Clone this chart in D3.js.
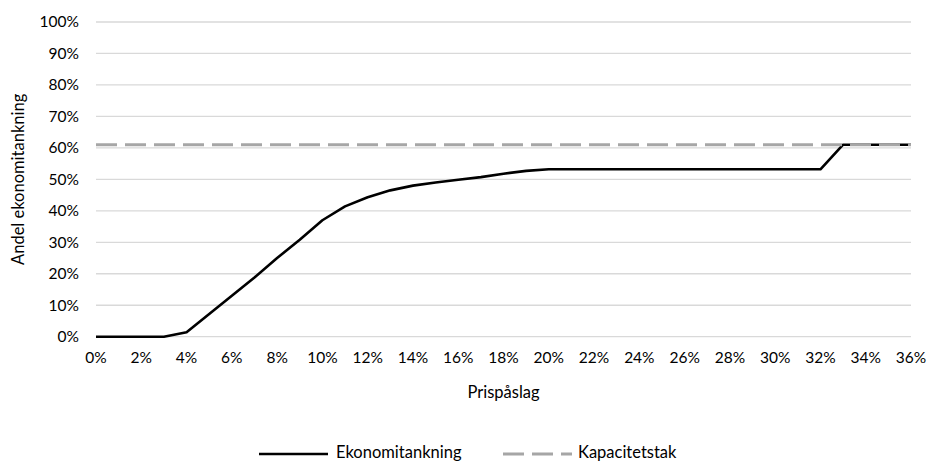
<!DOCTYPE html>
<html><head><meta charset="utf-8">
<script src="https://cdn.jsdelivr.net/npm/d3@7"></script>
<style>body{margin:0;background:#fff;} text{font-family:Lato, "Open Sans", sans-serif;fill:#000;}</style>
</head><body><svg id="c" width="928" height="461"></svg>
<script>
const xValues = [0,1,2,3,4,5,6,7,8,9,10,11,12,13,14,15,16,17,18,19,20,21,22,23,24,25,26,27,28,29,30,31,32,33,34,35,36];
const ekonomitankning = [0,0,0,0,1.4,7.2,13,18.8,25,30.8,37,41.4,44.3,46.5,48,49,49.9,50.7,51.8,52.7,53.2,53.2,53.2,53.2,53.2,53.2,53.2,53.2,53.2,53.2,53.2,53.2,53.2,61,61,61,61];
const kapacitetstak = 61;
const xTicks = [0,2,4,6,8,10,12,14,16,18,20,22,24,26,28,30,32,34,36];
const yTicks = [0,10,20,30,40,50,60,70,80,90,100];
const seriesNames = ["Ekonomitankning","Kapacitetstak"];

const svg = d3.select("#c");
const x = d3.scaleLinear().domain([0,36]).range([96,911]);
const y = d3.scaleLinear().domain([0,100]).range([336.7,22]);
const fs = 15.5, fw = 16.5;

// gridlines
svg.append("g").selectAll("line").data(yTicks).join("line")
  .attr("x1",x(0)).attr("x2",x(36)).attr("y1",d=>y(d)).attr("y2",d=>y(d))
  .attr("stroke","#d9d9d9").attr("stroke-width",1.3);

// y labels
svg.append("g").selectAll("text").data(yTicks).join("text")
  .attr("x",79).attr("y",d=>y(d)).attr("dy","0.35em").attr("text-anchor","end")
  .attr("font-size",fs).text(d=>d+"%");
// x labels
svg.append("g").selectAll("text").data(xTicks).join("text")
  .attr("x",d=>x(d)).attr("y",358).attr("dy","0.35em").attr("text-anchor","middle")
  .attr("font-size",fs).text(d=>d+"%");

svg.append("text").attr("x",(x(0)+x(36))/2).attr("y",392).attr("dy","0.35em")
  .attr("text-anchor","middle").attr("font-size",fw).text("Prispåslag");
svg.append("text").attr("transform",`translate(18,${(y(0)+y(100))/2}) rotate(-90)`)
  .attr("dy","0.35em").attr("text-anchor","middle").attr("font-size",fw).text("Andel ekonomitankning");

// main line
const line = d3.line().x((d,i)=>x(xValues[i])).y(d=>y(d));
svg.append("path").datum(ekonomitankning).attr("d",line).attr("fill","none")
  .attr("stroke","#000").attr("stroke-width",2.6).attr("stroke-linejoin","round");

// cap line (drawn on top)
svg.append("line").attr("x1",x(0)).attr("x2",x(36)).attr("y1",y(kapacitetstak)).attr("y2",y(kapacitetstak))
  .attr("stroke","#a6a6a6").attr("stroke-width",3).attr("stroke-dasharray","21,8");

// legend
const ly = 452;
svg.append("line").attr("x1",259).attr("x2",328).attr("y1",ly+2).attr("y2",ly+2).attr("stroke","#000").attr("stroke-width",2.6);
svg.append("text").attr("x",336).attr("y",ly).attr("dy","0.35em").attr("font-size",fw).text(seriesNames[0]);
svg.append("line").attr("x1",503).attr("x2",572).attr("y1",ly+2).attr("y2",ly+2).attr("stroke","#a6a6a6").attr("stroke-width",3).attr("stroke-dasharray","21,8");
svg.append("text").attr("x",578).attr("y",ly).attr("dy","0.35em").attr("font-size",fw).text(seriesNames[1]);
</script></body></html>
